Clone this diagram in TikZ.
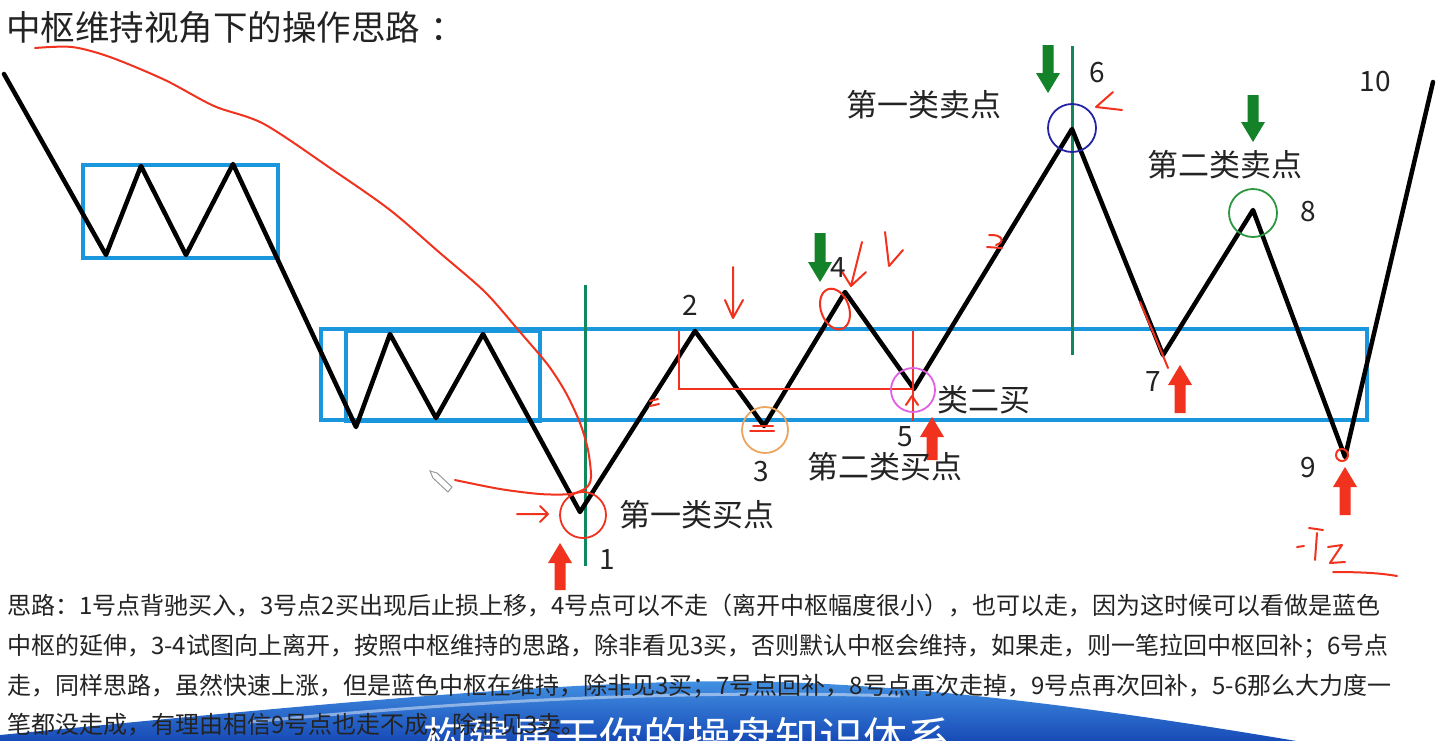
\documentclass[tikz,border=0pt]{standalone}
\usepackage{fontspec}
\setmainfont{Noto Sans CJK SC}
\definecolor{zsblue}{RGB}{25,150,220}
\definecolor{zsred}{RGB}{240,50,30}
\definecolor{zsgreen}{RGB}{20,130,40}
\definecolor{zsteal}{RGB}{15,135,95}
\definecolor{zsorange}{RGB}{235,165,95}
\definecolor{zsmagenta}{RGB}{225,95,225}
\definecolor{zsnavy}{RGB}{35,35,165}
\definecolor{zscirc}{RGB}{45,150,65}
\definecolor{zstxt}{RGB}{35,35,35}
\definecolor{zsbanA}{RGB}{20,70,180}
\definecolor{zsbanB}{RGB}{70,150,230}
\newcommand\zsDown[4]{\fill[#1] (#2,#3) -- ({#2-12},{#3-20}) -- ({#2-5.5},{#3-20}) -- ({#2-5.5},#4) -- ({#2+5.5},#4) -- ({#2+5.5},{#3-20}) -- ({#2+12},{#3-20}) -- cycle;}
\newcommand\zsUp[4]{\fill[#1] (#2,#3) -- ({#2-12},{#3+20}) -- ({#2-5.5},{#3+20}) -- ({#2-5.5},#4) -- ({#2+5.5},#4) -- ({#2+5.5},{#3+20}) -- ({#2+12},{#3+20}) -- cycle;}
\tikzset{
  zig/.style={draw=black, line width=4.5pt, line join=round, line cap=round},
  zbox/.style={draw=zsblue, line width=3.5pt},
  hand/.style={draw=zsred, line width=2pt, line cap=round, line join=round},
  vline/.style={draw=zsteal, line width=3pt},
  lbl/.style={font=\fontsize{31}{31}\selectfont, text=zstxt, inner sep=0},
  num/.style={font=\fontsize{28}{28}\selectfont, text=zstxt, inner sep=0},
  body/.style={font=\fontsize{24}{24}\selectfont, text=zstxt, inner sep=0, anchor=west},
  ttl/.style={font=\fontsize{34.5}{34.5}\selectfont, text=zstxt, inner sep=0, anchor=west},
}
\begin{document}
\begin{tikzpicture}[x=1pt,y=-1pt]
\useasboundingbox (0,0) rectangle (1440,740);
\clip (0,0) rectangle (1440,740);
\fill[white] (0,0) rectangle (1440,740);

% banner
\shade[top color=zsbanB, bottom color=zsbanA] (0,735) .. controls (300,706) and (600,676) .. (780,682) .. controls (960,688) and (1150,716) .. (1320,745) -- (0,745) -- cycle;
\draw[white, opacity=0.45, line width=3pt] (250,722) .. controls (500,698) and (700,690) .. (900,696);
\node[font=\fontsize{44}{44}\selectfont, text=white, anchor=base west, inner sep=0] (banner) at (423,754) {构建属于你的操盘知识体系};

% title
\node[ttl] (title) at (6,27) {中枢维持视角下的操作思路\hspace{0.3em}：};

% blue boxes
\draw[zbox] (83,165) rectangle (278,258);
\draw[zbox] (321,329) rectangle (1367,420);
\draw[zbox] (346,331) rectangle (540,421);

% vertical green lines
\coordinate (g1t) at (585,285); \coordinate (g1b) at (585,566);
\coordinate (g6t) at (1072,46); \coordinate (g6b) at (1072,355);
\draw[vline] (g1t) -- (g1b);
\draw[vline] (g6t) -- (g6b);

% zigzag
\coordinate (p0) at (4,74);
\coordinate (p1) at (106,255);
\coordinate (p2) at (141,166);
\coordinate (p3) at (186,255);
\coordinate (p4) at (233,164);
\coordinate (p5) at (356,427);
\coordinate (p6) at (390,334);
\coordinate (p7) at (436,418);
\coordinate (p8) at (483,334);
\coordinate (n1) at (580,512);
\coordinate (n2) at (695,331);
\coordinate (n3) at (764,426);
\coordinate (n4) at (845,292);
\coordinate (n5) at (914,389);
\coordinate (n6) at (1072,129);
\coordinate (n7) at (1163,355);
\coordinate (n8) at (1253,210);
\coordinate (n9) at (1345,457);
\coordinate (n10) at (1433,82);
\draw[zig] (p0) -- (p1) -- (p2) -- (p3) -- (p4) -- (p5) -- (p6) -- (p7) -- (p8) -- (n1) -- (n2) -- (n3) -- (n4) -- (n5) -- (n6) -- (n7) -- (n8) -- (n9) -- (n10);

% red rectangle (open)
\draw[draw=zsred, line width=2.5pt] (679,331) -- (679,389) -- (913,389);
\draw[draw=zsred, line width=2.5pt] (913,331) -- (913,421);

% circles
\draw[zsred, line width=1.8pt] (583,515) circle[radius=23pt];
\draw[zsorange, line width=1.8pt] (765,430) circle[radius=23pt];
\draw[zsmagenta, line width=1.8pt] (913,390) circle[radius=22pt];
\draw[zsnavy, line width=1.8pt] (1072,128) circle[radius=24pt];
\draw[zscirc, line width=1.8pt] (1253,213) circle[radius=24pt];
\draw[zsred, line width=2pt, rotate around={20:(835,309)}] (835,309) ellipse[x radius=14pt, y radius=21pt];
\draw[zsred, line width=2pt] (1342,455) circle[radius=6pt];

% green thick arrows
\zsDown{zsgreen}{820}{282}{233}
\zsDown{zsgreen}{1048}{93}{45}
\zsDown{zsgreen}{1253}{142}{95}

% red thick arrows
\zsUp{zsred}{560}{543}{590}
\zsUp{zsred}{932}{417}{460}
\zsUp{zsred}{1180}{365}{413}
\zsUp{zsred}{1345}{467}{515}

% hand-drawn red marks
\draw[hand] plot[smooth, tension=0.5] coordinates {(35,48) (72,47) (110,57) (165,80) (214,106) (264,124) (333,170) (390,210) (440,253) (485,292) (520,332) (548,365) (566,393) (580,423) (588,450) (591,477) (586,488) (570,494) (540,494) (500,489) (455,480)};
\draw[hand] (517,514) -- (548,514) (540,506) -- (548,514) -- (540,522);
\draw[hand] (733,267) -- (733,318) (725,300) -- (733,318) -- (743,300);
\draw[hand] (753,426) -- (773,426) (750,431) -- (774,431);
\draw[hand] (650,401) -- (658,399) (650,406) -- (659,404);
\draw[hand] (862,242) -- (851,286) (841,270) -- (851,286) -- (866,272);
\draw[hand] (885,232) -- (889,266) -- (903,250);
\draw[hand] (906,405) -- (912,396) -- (918,405);
\draw[hand] (989,235) .. controls (1002,234) and (1006,242) .. (996,245) (987,247) -- (1002,248);
\draw[hand] (1113,92) -- (1096,107) -- (1122,110);
\draw[hand] (1140,302) .. controls (1150,325) and (1160,348) .. (1168,368);
\draw[hand] (1297,547) -- (1304,546);
\draw[hand] (1309,528) -- (1323,530) (1317,533) -- (1315,560);
\draw[hand] (1328,547) -- (1342,545) -- (1330,563) -- (1345,562);
\draw[hand] (1333,572) .. controls (1360,572) and (1380,573) .. (1397,576);

% pencil cursor
\draw[gray!80, line width=1pt, fill=white] (430,471) -- (437,473) -- (452,487) -- (448,492) -- (433,478) -- cycle;

% labels
\node[num] (l1) at (607,560) {1};
\node[num] (l2) at (690,305) {2};
\node[num] (l3) at (761,472) {3};
\node[num] (l4) at (838,268) {4};
\node[num] (l5) at (905,437) {5};
\node[num] (l6) at (1097,73) {6};
\node[num] (l7) at (1153,382) {7};
\node[num] (l8) at (1308,212) {8};
\node[num] (l9) at (1308,468) {9};
\node[num] (l10) at (1375,82) {10};
\node[lbl] (b1) at (697,515) {第一类买点};
\node[lbl] (b5) at (984,400) {类二买};
\node[lbl] (b2) at (885,467) {第二类买点};
\node[lbl] (s1) at (924,105) {第一类卖点};
\node[lbl] (s2) at (1225,165) {第二类卖点};

% body text
\node[body] (t1) at (7,605) {思路：1号点背驰买入，3号点2买出现后止损上移，4号点可以不走（离开中枢幅度很小），也可以走，因为这时候可以看做是蓝色};
\node[body] (t2) at (7,646) {中枢的延伸，3-4试图向上离开，按照中枢维持的思路，除非看见3买，否则默认中枢会维持，如果走，则一笔拉回中枢回补；6号点};
\node[body] (t3) at (7,686) {走，同样思路，虽然快速上涨，但是蓝色中枢在维持，除非见3买；7号点回补，8号点再次走掉，9号点再次回补，5-6那么大力度一};
\node[body] (t4) at (7,725) {笔都没走成，有理由相信9号点也走不成，除非见3卖。};
\end{tikzpicture}
\end{document}
